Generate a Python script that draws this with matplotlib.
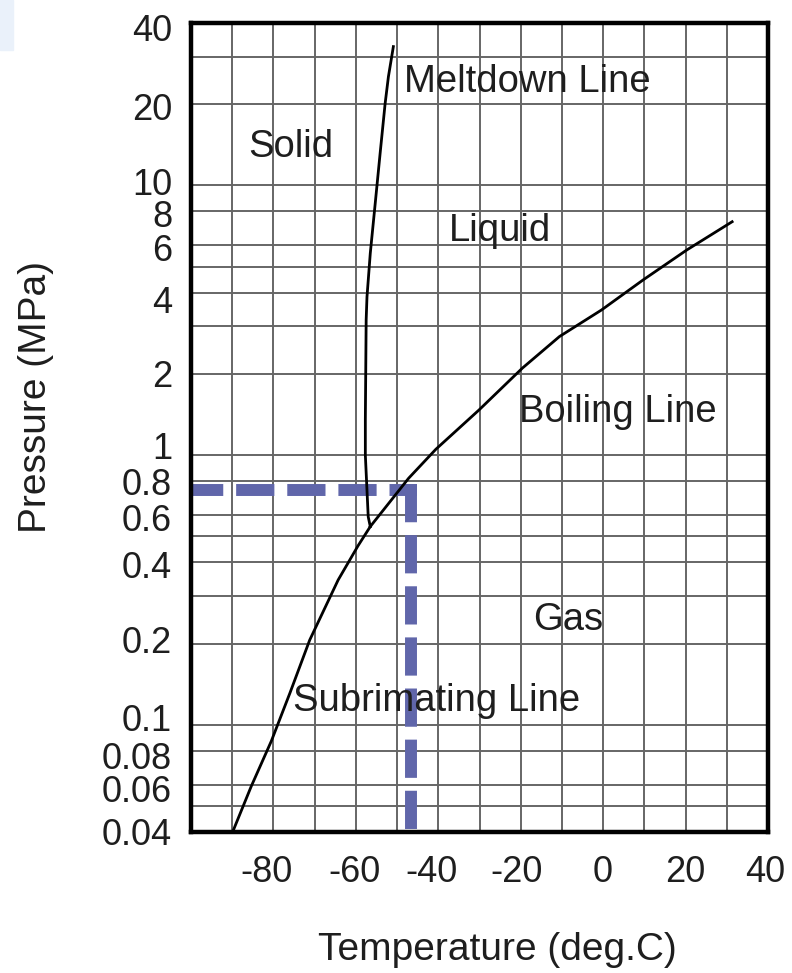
import matplotlib.pyplot as plt
from matplotlib.patches import Rectangle
from matplotlib.transforms import blended_transform_factory, offset_copy

plt.rcParams['font.family'] = ['Liberation Sans', 'DejaVu Sans']

# sublimation line (solid <-> gas)
sub_temp = [-89.9, -85.4, -80.5, -76.0, -71.2, -64.3, -59.5, -56.5]
sub_pres = [0.040, 0.059, 0.087, 0.131, 0.206, 0.344, 0.46, 0.543]

# melting line (solid <-> liquid)
melt_temp = [-56.5, -57.0, -57.7, -57.7, -57.5, -57.3, -56.5, -55.3, -54.1, -52.9, -52.1, -50.9]
melt_pres = [0.543, 0.59, 1.0, 1.35, 3.17, 3.86, 5.6, 8.58, 13.2, 20.1, 25.3, 32.7]

# boiling line (liquid <-> gas), ends at the critical point
boil_temp = [-56.5, -47.2, -40.6, -30.1, -19.6, -10.6, -0.4, 9.7, 20.3, 31.3]
boil_pres = [0.543, 0.82, 1.05, 1.47, 2.10, 2.75, 3.45, 4.46, 5.76, 7.33]

# reference point marked with the dashed lines
mark_temp = -46.5
mark_pres = 0.74

xtick_vals = [-80, -60, -40, -20, 0, 20, 40]
xtick_labels = ['-80', '-60', '-40', '-20', '0', '20', '40']
ytick_vals = [0.04, 0.06, 0.08, 0.1, 0.2, 0.4, 0.6, 0.8, 1, 2, 4, 6, 8, 10, 20, 40]
ytick_labels = ['0.04', '0.06', '0.08', '0.1', '0.2', '0.4', '0.6', '0.8',
                '1', '2', '4', '6', '8', '10', '20', '40']

grid_temp = [-90, -80, -70, -60, -50, -40, -30, -20, -10, 0, 10, 20, 30]
grid_pres = [0.05, 0.06, 0.08, 0.1, 0.2, 0.3, 0.4, 0.5, 0.6, 0.8,
             1, 2, 3, 4, 5, 6, 8, 10, 20, 30]

region_labels = [
    ('Meltdown Line', -48.4, 22.2),
    ('Solid', -86.2, 12.7),
    ('Liquid', -37.4, 6.22),
    ('Boiling Line', -20.4, 1.33),
    ('Gas', -17.1, 0.225),
    ('Subrimating Line', -75.2, 0.112),
]

# the tick labels in the source are nudged by hand (pixels, + = down / right)
ytick_nudge = [-0.5, 3.5, 4.5, -7.5, -4, 2, 2.7, 0.5, -10, -0.5, 6.5, 2.3, 1.8, -3.8, 2.7, 4.5]
xtick_nudge = [-7, -1, -6.5, -4, -1, -0.5, -2.5]

text_color = '#1e1e1e'

fig = plt.figure(figsize=(7.92, 9.73), dpi=100)
ax = fig.add_axes([191 / 792, 1 - 832 / 973, 577 / 792, 809 / 973])

ax.set_yscale('log')
ax.set_xlim(-100, 40)
ax.set_ylim(0.04, 40)

# grid
for t in grid_temp:
    ax.axvline(t, color='#666666', lw=1.4, zorder=1)
for p in grid_pres:
    ax.axhline(p, color='#666666', lw=1.4, zorder=1)

# phase lines
ax.plot(sub_temp, sub_pres, color='black', lw=2.0, zorder=3)
ax.plot(melt_temp, melt_pres, color='black', lw=2.0, zorder=3)
ax.plot(boil_temp, boil_pres, color='black', lw=2.0, zorder=3)

# dashed guide lines
dash = dict(color='#6066aa', lw=8.6, linestyle=(0, (2.2, 2.08)),
            dash_capstyle='projecting', zorder=2)
ax.plot([-100, mark_temp], [mark_pres, mark_pres], **dash)
ax.plot([mark_temp, mark_temp], [mark_pres, 0.04], **dash)

for txt, t, p in region_labels:
    ax.text(t, p, txt, fontsize=27.5, color=text_color, ha='left', va='baseline', zorder=4)

# tick labels drawn as texts so each can carry its own nudge
ax.set_xticks(xtick_vals)
ax.set_yticks(ytick_vals)
ax.set_xticklabels([])
ax.set_yticklabels([])
ax.minorticks_off()
ax.tick_params(axis='both', length=0)

ytrans = blended_transform_factory(ax.transAxes, ax.transData)
for v, lab, dy in zip(ytick_vals, ytick_labels, ytick_nudge):
    tr = offset_copy(ytrans, fig=fig, x=-19, y=-dy, units='dots')
    ax.text(0, v, lab, transform=tr, fontsize=26, color=text_color,
            ha='right', va='center_baseline', clip_on=False)

xtrans = blended_transform_factory(ax.transData, ax.transAxes)
for v, lab, dx in zip(xtick_vals, xtick_labels, xtick_nudge):
    tr = offset_copy(xtrans, fig=fig, x=dx, y=-37, units='dots')
    ax.text(v, 0, lab, transform=tr, fontsize=26, color=text_color,
            ha='center', va='center_baseline', clip_on=False)

for sp in ax.spines.values():
    sp.set_linewidth(3.2)
    sp.set_color('black')
    sp.set_zorder(5)

fig.text(497 / 792, 1 - 950 / 973, 'Temperature (deg.C)', fontsize=28,
         color=text_color, ha='center', va='center')
fig.text(36 / 792, 1 - 397 / 973, 'Pressure (MPa)', fontsize=28,
         color=text_color, ha='center', va='center', rotation=90)

# faint strip in the top-left corner of the source image
fig.patches.append(Rectangle((0, 1 - 50 / 973), 13 / 792, 50 / 973,
                             transform=fig.transFigure, color='#eaf1fa', zorder=0))

fig.savefig('out.png', dpi=100)
